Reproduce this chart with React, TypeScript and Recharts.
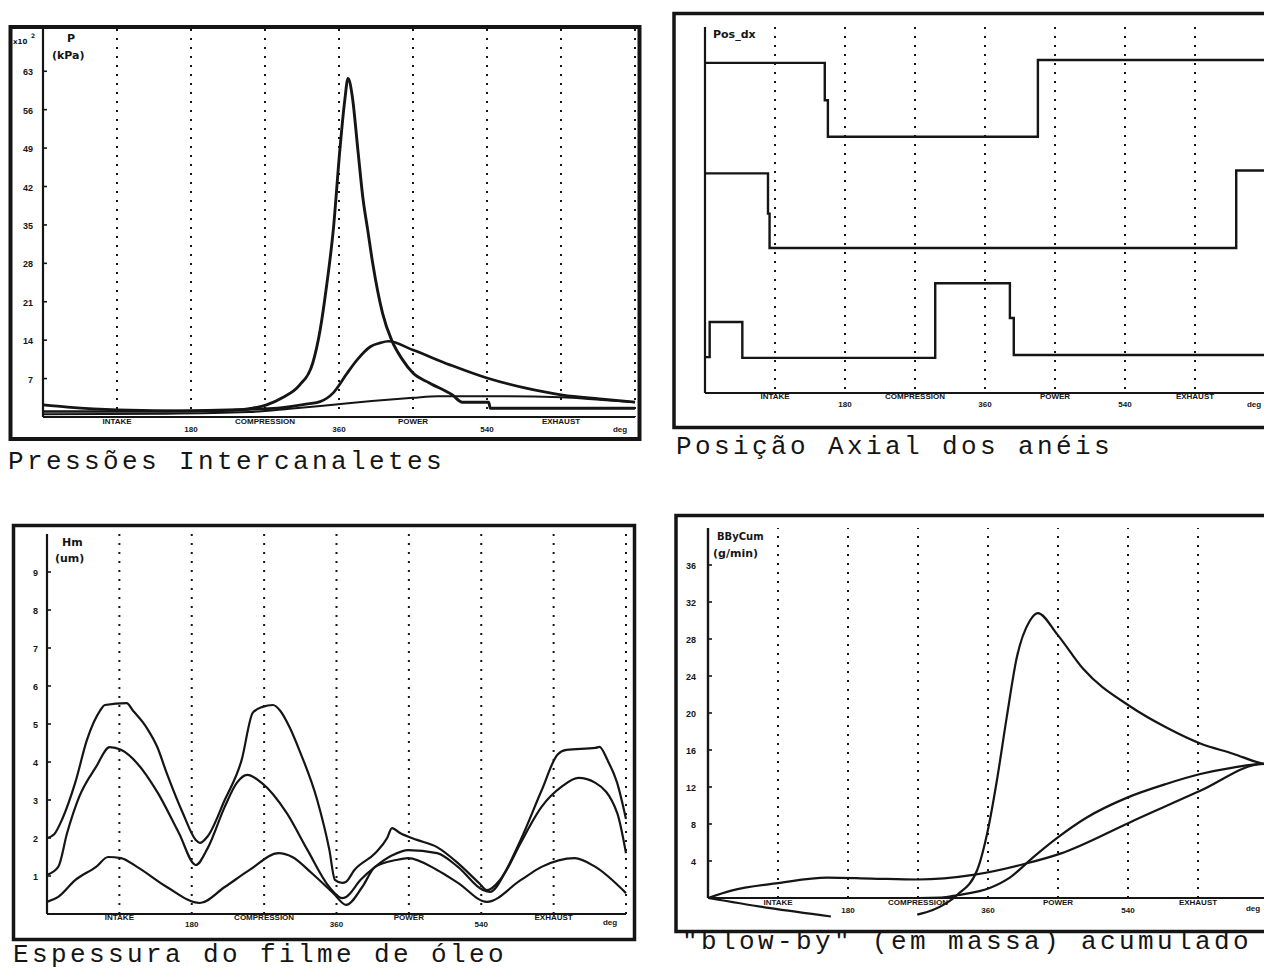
import React from 'react';
import { LineChart, Line, XAxis, YAxis, CartesianGrid, ReferenceLine } from 'recharts';

type Pt = [number, number | null];

// ---- shared crank-angle axis ----
const CRANK_TICKS = [90, 180, 270, 360, 450, 540, 630];
const CRANK_LABELS = ['INTAKE', '180', 'COMPRESSION', '360', 'POWER', '540', 'EXHAUST'];

// ---- panel 1: inter-groove pressures (x10^2 kPa) ----
const PRESSURE_TICKS = [7, 14, 21, 28, 35, 42, 49, 56, 63];
const pressureGroove1: Pt[] = [
  [0, 2.2], [30, 1.8], [90, 1.3], [180, 1.1], [230, 1.2], [255, 1.6], [272, 2.2], [291, 3.5],
  [312, 5.8], [328, 9.8], [337, 15.8], [345, 24], [353, 34], [361, 48.6], [367, 57.7], [371, 61.7],
  [376, 58.6], [383, 48.6], [389, 40], [395, 34], [401, 28], [413, 18.9], [424, 14], [437, 10.5],
  [450, 8], [470, 6.2], [498, 4.0], [510, 2.7], [542, 2.7], [544, 1.6], [720, 1.6],
];
const pressureGroove2: Pt[] = [
  [0, 1.0], [120, 1.0], [200, 1.2], [250, 1.4], [285, 1.6], [322, 2.4], [337, 2.8], [353, 4.4],
  [370, 8.0], [382, 10.4], [398, 12.8], [410, 13.5], [420, 13.8], [450, 12.2], [495, 9.5],
  [540, 7.1], [586, 5.3], [632, 4.0], [677, 3.3], [720, 2.7],
];
const pressureGroove3: Pt[] = [
  [0, 0.5], [150, 0.6], [250, 0.9], [300, 1.5], [350, 2.2], [400, 2.9], [450, 3.5], [480, 3.8],
  [540, 3.8], [630, 3.6], [680, 3.1], [720, 2.7],
];

// ---- panel 2: axial ring position (Pos_dx, relative units) ----
const positionRing1: Pt[] = [
  [0, 9.02], [154, 9.02], [154, 8.0], [158, 8.0], [158, 7.0], [428, 7.0], [428, 9.1], [720, 9.1],
];
const positionRing2: Pt[] = [
  [0, 6.0], [81, 6.0], [81, 4.9], [83, 4.9], [83, 3.96], [683, 3.96], [683, 6.08], [720, 6.08],
];
const positionRing3: Pt[] = [
  [0, 0.98], [6, 0.98], [6, 1.94], [48, 1.94], [48, 0.96], [296, 0.96], [296, 3.0], [392, 3.0],
  [392, 2.05], [397, 2.05], [397, 1.04], [720, 1.04],
];

// ---- panel 3: oil film thickness Hm (um) ----
const FILM_TICKS = [1, 2, 3, 4, 5, 6, 7, 8, 9];
const filmRing1: Pt[] = [
  [0, 2.0], [9, 2.1], [19, 2.5], [35, 3.45], [50, 4.6], [66, 5.35], [72, 5.5], [99, 5.55], [107, 5.35],
  [124, 4.9], [137, 4.4], [149, 3.7], [169, 2.65], [185, 1.95], [190, 1.87], [200, 2.05], [221, 3.0],
  [242, 4.05], [256, 5.3], [268, 5.45], [281, 5.5], [290, 5.35], [302, 4.9], [314, 4.3], [336, 3.0],
  [351, 1.7], [358, 0.9], [367, 0.82], [372, 0.85], [382, 1.15], [408, 1.6], [423, 2.0], [429, 2.26],
  [439, 2.13], [460, 1.95], [485, 1.76], [511, 1.34], [537, 0.82], [547, 0.63], [563, 0.89],
  [589, 1.95], [615, 3.25], [635, 4.2], [646, 4.32], [682, 4.37], [687, 4.4], [697, 4.05],
  [709, 3.45], [720, 2.5],
];
const filmRing2: Pt[] = [
  [0, 1.03], [14, 1.24], [25, 2.13], [40, 3.08], [61, 3.87], [78, 4.39], [92, 4.32], [112, 3.97],
  [138, 3.18], [164, 2.13], [185, 1.29], [200, 1.74], [221, 2.82], [236, 3.45], [249, 3.66],
  [267, 3.45], [298, 2.66], [324, 1.68], [351, 0.71], [367, 0.42], [372, 0.45], [390, 0.9],
  [408, 1.24], [430, 1.55], [449, 1.68], [485, 1.6], [511, 1.24], [542, 0.63], [551, 0.58],
  [570, 1.1], [589, 1.87], [615, 2.82], [640, 3.35], [661, 3.58], [682, 3.45], [709, 2.66], [720, 1.6],
];
const filmRing3: Pt[] = [
  [0, 0.32], [14, 0.45], [35, 0.89], [61, 1.24], [76, 1.5], [92, 1.47], [112, 1.24], [149, 0.71],
  [190, 0.29], [221, 0.71], [252, 1.16], [288, 1.6], [305, 1.5], [329, 1.08], [356, 0.55],
  [372, 0.24], [392, 0.71], [408, 1.24], [434, 1.42], [449, 1.47], [485, 1.16], [511, 0.82],
  [547, 0.32], [589, 0.89], [615, 1.24], [656, 1.47], [682, 1.24], [720, 0.55],
];

// ---- panel 4: accumulated blow-by (g/min) ----
const BLOWBY_TICKS = [4, 8, 12, 16, 20, 24, 28, 32, 36];
const blowbyCurveA: Pt[] = [
  [0, 0], [80, -1.1], [158, -2.0], [200, null], [269, -1.8], [289, -1.3], [320, 0.3], [346, 3.0],
  [360, 7.4], [372, 13.0], [384, 19.5], [397, 26.0], [414, 30.0], [424, 30.8], [449, 28.5],
  [482, 24.8], [543, 20.7], [590, 18.4], [633, 16.7], [675, 15.6], [714, 14.5], [720, 14.4],
];
const blowbyCurveB: Pt[] = [
  [0, 0], [270, 0], [300, 0.05], [320, 0.3], [363, 1.1], [388, 2.2], [418, 4.4], [449, 6.5],
  [487, 8.7], [539, 10.85], [590, 12.35], [633, 13.4], [675, 14.1], [714, 14.5], [720, 14.5],
];
const blowbyCurveC: Pt[] = [
  [0, 0], [30, 0.8], [90, 1.6], [153, 2.2], [210, 2.1], [270, 2.0], [341, 2.5], [410, 3.75],
  [453, 4.8], [543, 8.2], [633, 11.6], [714, 14.5], [720, 14.5],
];

const toRows = (pts: Pt[]) => pts.map(([deg, v]) => ({ deg, v }));

const INK = '#151515';
const LABEL_FONT = '"Liberation Sans", Arial, sans-serif';
const TITLE_FONT = '"DejaVu Sans", sans-serif';
const CAPTION_FONT = '"Liberation Mono", "DejaVu Sans Mono", monospace';

function xTick(upper: number, lower: number) {
  return (props: any) => {
    const { x, y, payload } = props;
    const i = CRANK_TICKS.indexOf(payload.value);
    if (i < 0) return <g />;
    return (
      <text x={x} y={y + (i % 2 === 0 ? upper : lower)} textAnchor="middle" fontSize={8}
        fontWeight={700} fontFamily={LABEL_FONT} fill={INK}>{CRANK_LABELS[i]}</text>
    );
  };
}

function yTick(gap: number) {
  return (props: any) => {
    const { x, y, payload } = props;
    return (
      <g>
        <line x1={x} x2={x + 4} y1={y} y2={y} stroke={INK} strokeWidth={1.6} />
        <text x={x - gap} y={y + 4} textAnchor="end" fontSize={9} fontWeight={700}
          fontFamily={LABEL_FONT} fill={INK}>{payload.value}</text>
      </g>
    );
  };
}

const axisStroke = { stroke: INK, strokeWidth: 2.2 };
const gridProps = { stroke: INK, strokeDasharray: '2 7', strokeWidth: 2 };

function curve(data: Pt[], width: number, type: 'monotone' | 'linear' = 'monotone') {
  return (
    <Line data={toRows(data)} dataKey="v" type={type} stroke={INK} strokeWidth={width}
      dot={false} activeDot={false} isAnimationActive={false} connectNulls={false} />
  );
}

const abs = (left: number, top: number): React.CSSProperties => ({ position: 'absolute', left, top });

export default function App() {
  return (
    <div style={{ position: 'absolute', left: 0, top: 0, width: 1264, height: 973, overflow: 'hidden', background: '#fff' }}>
      <svg width={1264} height={973} style={{ position: 'absolute', left: 0, top: 0 }}>
        {/* frames */}
        <rect x={10.5} y={27} width={629} height={412} fill="none" stroke={INK} strokeWidth={4} />
        <rect x={674} y={13.5} width={640} height={414} fill="none" stroke={INK} strokeWidth={3.5} />
        <rect x={13.5} y={525.5} width={621} height={414} fill="none" stroke={INK} strokeWidth={3.5} />
        <rect x={676} y={515.5} width={640} height={416} fill="none" stroke={INK} strokeWidth={3.5} />

        {/* axis titles */}
        <g fontFamily={TITLE_FONT} fontWeight={700} fill={INK}>
          <text x={13} y={44} fontSize={7}>x10</text>
          <text x={31} y={38} fontSize={6}>2</text>
          <text x={67} y={42} fontSize={11}>P</text>
          <text x={52} y={59} fontSize={11}>(kPa)</text>
          <text x={713} y={38} fontSize={11}>Pos_dx</text>
          <text x={62} y={546} fontSize={11}>Hm</text>
          <text x={55} y={562} fontSize={11}>(um)</text>
          <text x={717} y={540} fontSize={10}>BByCum</text>
          <text x={713} y={557} fontSize={11}>(g/min)</text>
        </g>
        <g fontFamily={LABEL_FONT} fontWeight={700} fontSize={8} fill={INK} textAnchor="middle">
          <text x={620} y={432}>deg</text>
          <text x={1254} y={407}>deg</text>
          <text x={610} y={925}>deg</text>
          <text x={1253} y={911}>deg</text>
        </g>

        {/* captions */}
        <g fontFamily={CAPTION_FONT} fontSize={26} letterSpacing={3.4} fill={INK}>
          <text x={8} y={469}>Pressões Intercanaletes</text>
          <text x={676} y={454}>Posição Axial dos anéis</text>
          <text x={13} y={962}>Espessura do filme de óleo</text>
          <text x={682} y={949}>"blow-by" (em massa) acumulado</text>
        </g>
      </svg>

      {/* Panel 1 */}
      <div style={abs(0, 0)}>
        <LineChart width={640} height={445} margin={{ top: 29, right: 5, bottom: 0, left: 0 }}>
          <CartesianGrid horizontal={false} {...gridProps} />
          <XAxis type="number" dataKey="deg" domain={[0, 720]} ticks={CRANK_TICKS} interval={0} height={28}
            tickSize={0} tickMargin={0} tickLine={false} axisLine={axisStroke} tick={xTick(7, 15)} />
          <YAxis type="number" domain={[0, 70.7]} ticks={PRESSURE_TICKS} interval={0} width={43}
            tickSize={0} tickMargin={0} tickLine={false} axisLine={axisStroke} tick={yTick(10)} />
          {curve(pressureGroove3, 2)}
          {curve(pressureGroove2, 2.7)}
          {curve(pressureGroove1, 2.9)}
        </LineChart>
      </div>

      {/* Panel 2 */}
      <div style={abs(640, 0)}>
        <LineChart width={630} height={420} margin={{ top: 27, right: 5, bottom: 0, left: 0 }}>
          <CartesianGrid horizontal={false} {...gridProps} />
          <XAxis type="number" dataKey="deg" domain={[0, 720]} ticks={CRANK_TICKS} interval={0} height={27}
            tickSize={0} tickMargin={0} tickLine={false} axisLine={axisStroke} tick={xTick(6, 14)} />
          <YAxis type="number" domain={[0, 10]} width={65} tick={false} tickLine={false} axisLine={axisStroke} />
          {curve(positionRing1, 2.4, 'linear')}
          {curve(positionRing2, 2.4, 'linear')}
          {curve(positionRing3, 2.4, 'linear')}
        </LineChart>
      </div>

      {/* Panel 3 */}
      <div style={abs(0, 510)}>
        <LineChart width={640} height={430} margin={{ top: 24, right: 14, bottom: 0, left: 0 }}>
          <CartesianGrid horizontal={false} {...gridProps} />
          <XAxis type="number" dataKey="deg" domain={[0, 720]} ticks={CRANK_TICKS} interval={0} height={26}
            tickSize={0} tickMargin={0} tickLine={false} axisLine={axisStroke} tick={xTick(6, 13)} />
          <YAxis type="number" domain={[0, 10]} ticks={FILM_TICKS} interval={0} width={47}
            tickSize={0} tickMargin={0} tickLine={false} axisLine={axisStroke} tick={yTick(9)} />
          {curve(filmRing1, 2.2)}
          {curve(filmRing2, 2.2)}
          {curve(filmRing3, 2.2)}
        </LineChart>
      </div>

      {/* Panel 4 */}
      <div style={abs(640, 510)}>
        <LineChart width={630} height={430} margin={{ top: 18, right: 2, bottom: 0, left: 0 }}>
          {CRANK_TICKS.map((t) => (
            <ReferenceLine key={t} segment={[{ x: t, y: 0 }, { x: t, y: 40 }]} {...gridProps} />
          ))}
          <XAxis type="number" dataKey="deg" domain={[0, 720]} ticks={CRANK_TICKS} interval={0} height={15}
            tickSize={0} tickMargin={0} tickLine={false} axisLine={false} tick={xTick(-20, -12)} />
          <YAxis type="number" domain={[-2.92, 40]} ticks={BLOWBY_TICKS} interval={0} width={68}
            tickSize={0} tickMargin={0} tickLine={false} axisLine={false} tick={yTick(12)} />
          <ReferenceLine y={0} stroke={INK} strokeWidth={2.2} />
          <ReferenceLine segment={[{ x: 0, y: 0 }, { x: 0, y: 40 }]} stroke={INK} strokeWidth={2.4} />
          {curve(blowbyCurveA, 2.2)}
          {curve(blowbyCurveB, 2.2)}
          {curve(blowbyCurveC, 2.2)}
        </LineChart>
      </div>
    </div>
  );
}
